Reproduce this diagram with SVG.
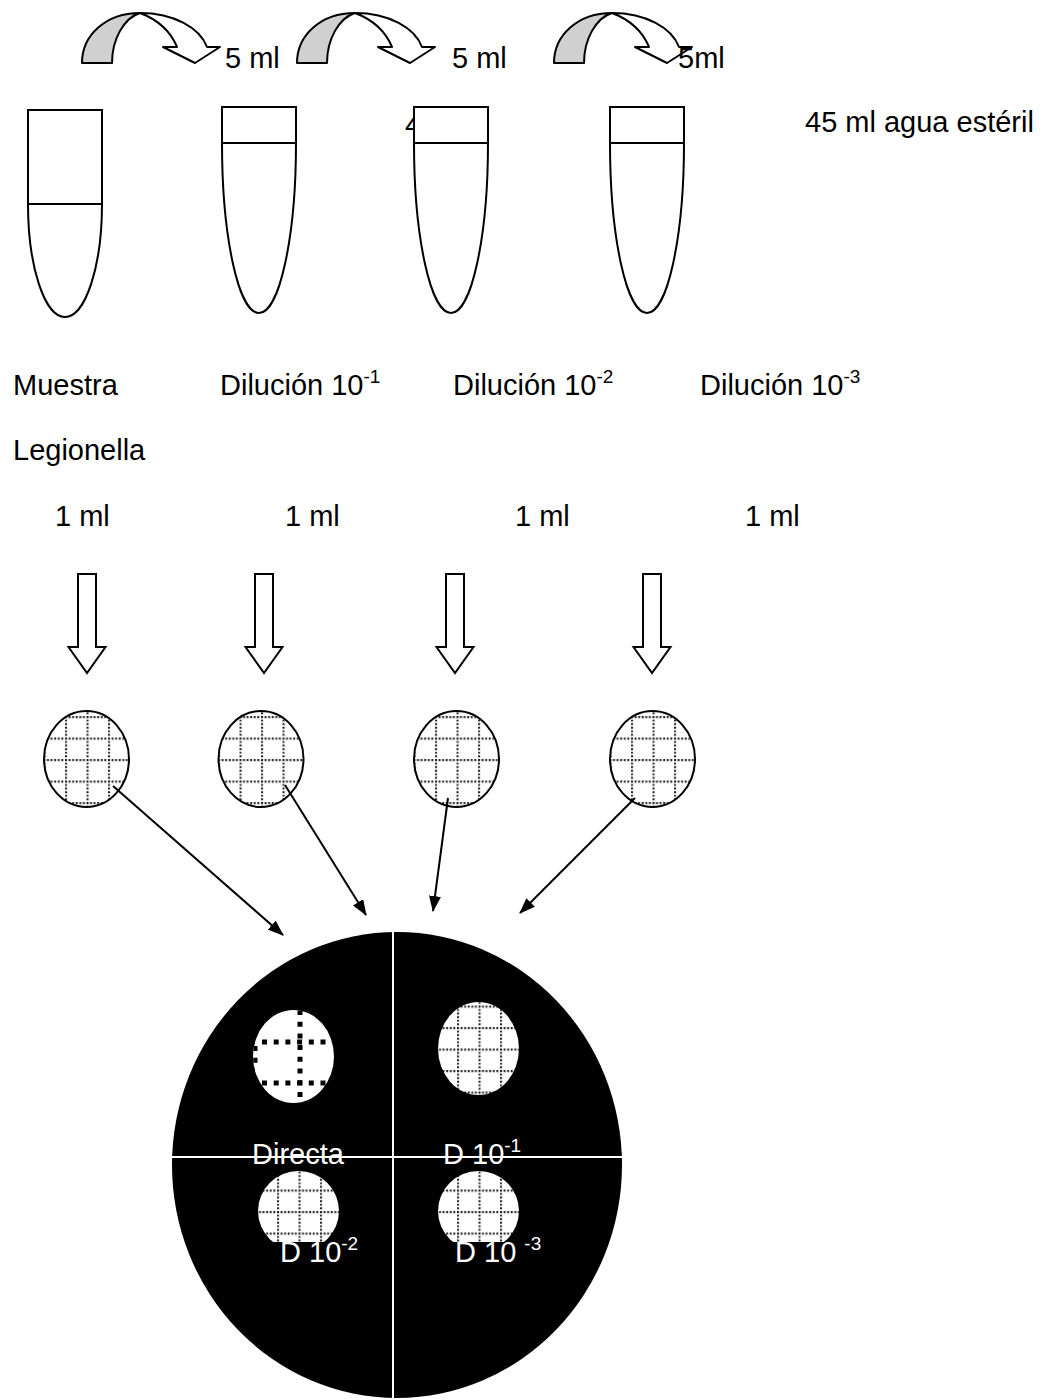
<svg xmlns="http://www.w3.org/2000/svg" xmlns:xlink="http://www.w3.org/1999/xlink" width="1048" height="1400" viewBox="0 0 1048 1400">
  <style>
    text { font-family: "Liberation Sans", Arial, sans-serif; font-size: 29px; fill: #000; }
    .sup { font-size: 19px; }
    .ink { fill: none; stroke: #000; stroke-width: 2; }
    .tube { fill: #fff; stroke: #000; stroke-width: 2; }
    .inv { fill: #fff; }
    .split { stroke: #fff; stroke-width: 2; }
    .link { stroke: #000; stroke-width: 2; fill: none; }
  </style>
  <defs>
    <!-- square mesh of dotted lines for membrane filters -->
    <pattern id="mesh" width="21.5" height="21.5" patternUnits="userSpaceOnUse">
      <rect width="21.5" height="21.5" fill="#fff"/>
      <line x1="1" y1="0" x2="1" y2="21.5" stroke="#222" stroke-width="2.2" stroke-dasharray="1.9 1.68"/>
      <line x1="0" y1="1" x2="21.5" y2="1" stroke="#222" stroke-width="2.2" stroke-dasharray="1.9 1.68"/>
    </pattern>
    <!-- curved transfer arrow -->
    <g id="curl">
      <path d="M0,50 C0,22 24,0 58,0 C42,5 30,26 30,50 Z" fill="#d0d0d0" stroke="#000" stroke-width="2" stroke-linejoin="round"/>
      <path d="M58,0 C92,0 118,15 125,34 L138,34 L113,50 L81,34 L95,34 C88,17 74,6 58,0 Z" fill="#fff" stroke="#000" stroke-width="2" stroke-linejoin="round"/>
    </g>
    <!-- hollow down arrow -->
    <path id="down" d="M-9,0 L9,0 L9,73 L18.5,73 L0,99 L-18.5,73 L-9,73 Z" fill="#fff" stroke="#000" stroke-width="2"/>
    <marker id="head" markerWidth="16" markerHeight="12" refX="15" refY="6" orient="auto" markerUnits="userSpaceOnUse">
      <path d="M0,0 L16,6 L0,12 Z" fill="#000"/>
    </marker>
    <clipPath id="clipDirecta">
      <ellipse cx="293.5" cy="1056.5" rx="40.5" ry="46.5"/>
    </clipPath>
  </defs>

  <!-- transfer arrows between tubes -->
  <g id="transfers">
    <use xlink:href="#curl" transform="translate(82,13)"/>
    <use xlink:href="#curl" transform="translate(297,13)"/>
    <use xlink:href="#curl" transform="translate(554,13)"/>
    <text x="225" y="68">5 ml</text>
    <text x="452" y="68">5 ml</text>
    <text x="678" y="68">5ml</text>
  </g>

  <!-- label partly hidden behind the third tube -->
  <text x="405" y="135">4</text>

  <!-- tubes -->
  <g id="tube-muestra">
    <path class="tube" d="M28,110 L102,110 L102,204 A37,113 0 0 1 28,204 Z"/>
    <line class="ink" x1="28" y1="204" x2="102" y2="204"/>
  </g>
  <g id="tube-d1">
    <path class="tube" d="M222,107 L296,107 L296,143 A37,170 0 0 1 222,143 Z"/>
    <line class="ink" x1="222" y1="143" x2="296" y2="143"/>
  </g>
  <g id="tube-d2">
    <path class="tube" d="M414,107 L488,107 L488,143 A37,170 0 0 1 414,143 Z"/>
    <line class="ink" x1="414" y1="143" x2="488" y2="143"/>
  </g>
  <g id="tube-d3">
    <path class="tube" d="M610,107 L684,107 L684,143 A37,170 0 0 1 610,143 Z"/>
    <line class="ink" x1="610" y1="143" x2="684" y2="143"/>
  </g>
  <text x="805" y="132">45 ml agua estéril</text>

  <!-- tube labels -->
  <g id="labels">
    <text x="13" y="395">Muestra</text>
    <text x="220" y="395">Dilución 10<tspan class="sup" dy="-12">-1</tspan></text>
    <text x="453" y="395">Dilución 10<tspan class="sup" dy="-12">-2</tspan></text>
    <text x="700" y="395">Dilución 10<tspan class="sup" dy="-12">-3</tspan></text>
    <text x="13" y="460">Legionella</text>
    <text x="55" y="526">1 ml</text>
    <text x="285" y="526">1 ml</text>
    <text x="515" y="526">1 ml</text>
    <text x="745" y="526">1 ml</text>
  </g>

  <!-- volume arrows -->
  <g id="pour">
    <use xlink:href="#down" transform="translate(87,574)"/>
    <use xlink:href="#down" transform="translate(264,574)"/>
    <use xlink:href="#down" transform="translate(455,574)"/>
    <use xlink:href="#down" transform="translate(652,574)"/>
  </g>

  <!-- membrane filters -->
  <g id="filter-1" transform="translate(86.5,759)">
    <ellipse rx="42.5" ry="48" fill="url(#mesh)" stroke="#000" stroke-width="2"/>
  </g>
  <g id="filter-2" transform="translate(261,759)">
    <ellipse rx="42.5" ry="48" fill="url(#mesh)" stroke="#000" stroke-width="2"/>
  </g>
  <g id="filter-3" transform="translate(456.5,759)">
    <ellipse rx="42.5" ry="48" fill="url(#mesh)" stroke="#000" stroke-width="2"/>
  </g>
  <g id="filter-4" transform="translate(652.5,759)">
    <ellipse rx="42.5" ry="48" fill="url(#mesh)" stroke="#000" stroke-width="2"/>
  </g>

  <!-- connectors -->
  <g id="connectors">
    <line class="link" x1="113" y1="786" x2="283" y2="935" marker-end="url(#head)"/>
    <line class="link" x1="285" y1="785" x2="366" y2="915" marker-end="url(#head)"/>
    <line class="link" x1="448" y1="798" x2="433" y2="911" marker-end="url(#head)"/>
    <line class="link" x1="635" y1="798" x2="520" y2="913" marker-end="url(#head)"/>
  </g>

  <!-- culture plate -->
  <g id="plate">
    <ellipse cx="397" cy="1165" rx="225" ry="233" fill="#000"/>
    <line class="split" x1="393" y1="932" x2="393" y2="1400"/>
    <line class="split" x1="172" y1="1157" x2="622" y2="1157"/>
  </g>

  <g id="spot-directa">
    <ellipse class="inv" cx="293.5" cy="1056.5" rx="40.5" ry="46.5"/>
    <g clip-path="url(#clipDirecta)" stroke="#000" stroke-width="5" fill="none" stroke-dasharray="5 6.7">
      <line x1="300" y1="1010" x2="300" y2="1104"/>
      <line x1="262" y1="1042" x2="330" y2="1042"/>
      <line x1="262" y1="1083" x2="330" y2="1083"/>
      <line x1="255" y1="1046" x2="255" y2="1068"/>
    </g>
    <text class="inv" x="252" y="1164">Directa</text>
  </g>
  <g id="spot-d1">
    <g transform="translate(478.5,1048.5)">
      <ellipse rx="40.5" ry="46.5" fill="url(#mesh)"/>
    </g>
    <text class="inv" x="443" y="1164">D 10<tspan class="sup" dy="-12">-1</tspan></text>
  </g>
  <g id="spot-d2">
    <g transform="translate(298.5,1211)">
      <ellipse rx="40.5" ry="40" fill="url(#mesh)"/>
    </g>
    <!-- label box over the lower edge of the spot -->
    <rect x="256" y="1242" width="110" height="32" fill="#000"/>
    <text class="inv" x="280" y="1262">D 10<tspan class="sup" dy="-12">-2</tspan></text>
  </g>
  <g id="spot-d3">
    <g transform="translate(478.5,1211)">
      <ellipse rx="40.5" ry="40" fill="url(#mesh)"/>
    </g>
    <rect x="436" y="1242" width="114" height="32" fill="#000"/>
    <text class="inv" x="455" y="1262">D 10 <tspan class="sup" dy="-12">-3</tspan></text>
  </g>
</svg>
